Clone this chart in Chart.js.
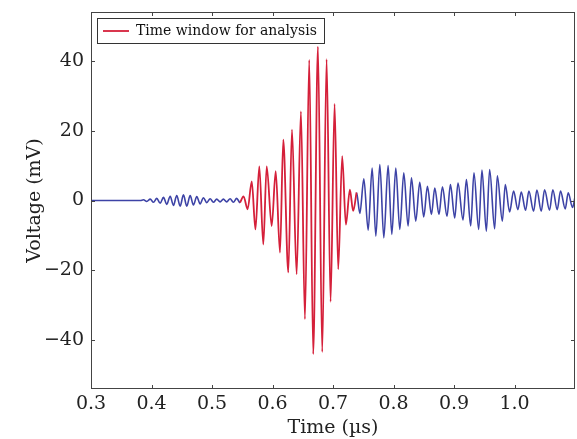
<!DOCTYPE html>
<html>
<head>
<meta charset="utf-8">
<script src="https://cdn.jsdelivr.net/npm/chart.js@4.4.0/dist/chart.umd.min.js"></script>
<style>
  body { margin: 0; background: #fff; }
  #wrap { width: 577px; height: 439px; }
</style>
</head>
<body>
<div id="wrap"><canvas id="waveChart"></canvas></div>
<script>
// peaks and troughs of the trace
const timeUs = [
  0.3000, 0.3500, 0.3814, 0.3868, 0.3922, 0.3979, 0.4033, 0.4087, 0.4144, 0.4198,
  0.4252, 0.4309, 0.4363, 0.4417, 0.4474, 0.4528, 0.4583, 0.4639, 0.4693, 0.4748,
  0.4804, 0.4858, 0.4913, 0.4969, 0.5023, 0.5078, 0.5134, 0.5188, 0.5243, 0.5299,
  0.5353, 0.5408, 0.5464, 0.5521, 0.5589, 0.5657, 0.5718, 0.5782, 0.5848, 0.5904,
  0.5987, 0.6053, 0.6124, 0.6178, 0.6261, 0.6322, 0.6399, 0.6470, 0.6536, 0.6607,
  0.6673, 0.6751, 0.6822, 0.6894, 0.6960, 0.7026, 0.7086, 0.7152, 0.7213, 0.7279,
  0.7333, 0.7389, 0.7444, 0.7510, 0.7581, 0.7647, 0.7708, 0.7774, 0.7840, 0.7911,
  0.7972, 0.8038, 0.8104, 0.8170, 0.8241, 0.8297, 0.8368, 0.8434, 0.8500, 0.8561,
  0.8627, 0.8682, 0.8752, 0.8809, 0.8884, 0.8941, 0.9012, 0.9066, 0.9149, 0.9205,
  0.9276, 0.9330, 0.9408, 0.9462, 0.9535, 0.9589, 0.9672, 0.9716, 0.9799, 0.9848,
  0.9919, 0.9985, 1.0056, 1.0112, 1.0183, 1.0238, 1.0315, 1.0370, 1.0442, 1.0497,
  1.0579, 1.0634, 1.0706, 1.0761, 1.0838, 1.0888, 1.0959, 1.1000
];
const voltageMv = [
  0, 0, 0, 0.2, -0.3, 0.4, -0.5, 0.6, -0.8, 0.9,
  -1.1, 1.2, -1.4, 1.4, -1.6, 1.6, -1.6, 1.4, -1.3, 1.1,
  -1.0, 0.8, -0.6, 0.5, -0.5, 0.4, -0.4, 0.4, -0.4, 0.5,
  -0.5, 0.6, -0.6, 1.2, -2.5, 5.5, -8.3, 9.8, -12.6, 9.8,
  -7.3, 8.4, -14.9, 17.4, -20.6, 20.3, -21.1, 25.5, -34.0, 40.3,
  -44.0, 44.1, -43.4, 40.5, -29.0, 27.7, -19.7, 12.7, -6.9, 3.1,
  -3.0, 2.3, -3.7, 6.2, -8.5, 9.3, -10.2, 10.3, -10.7, 10.0,
  -9.7, 9.3, -8.3, 7.9, -7.3, 6.5, -5.9, 5.2, -4.7, 4.1,
  -4.0, 3.6, -4.0, 3.9, -4.5, 4.6, -5.0, 5.0, -5.6, 6.0,
  -7.3, 7.9, -8.3, 8.7, -8.8, 8.9, -8.1, 7.1, -5.9, 4.6,
  -3.3, 2.7, -2.6, 2.4, -2.8, 2.7, -3.1, 3.0, -3.1, 3.1,
  -2.8, 3.1, -2.6, 2.7, -2.4, 2.2, -2.0, 1.0
];
const windowStart = 0.5464;
const windowEnd = 0.7389;
const xTicks = [0.3, 0.4, 0.5, 0.6, 0.7, 0.8, 0.9, 1.0];
const yTicks = [-40, -20, 0, 20, 40];
const legendLabel = 'Time window for analysis';

const blue = '#3d43a6';
const red = '#d5203a';
const serif = 'DejaVu Serif';

const allPoints = timeUs.map((t, i) => ({ x: t, y: voltageMv[i] }));
const windowPoints = allPoints.filter(p => p.x >= windowStart && p.x <= windowEnd);

// matplotlib style: frame on all four sides, ticks pointing inward, boxed legend
const framePlugin = {
  id: 'frame',
  afterLayout(chart) {
    // a legend placed in the chart area gets top = 0, pin it to the plot instead
    const lg = chart.legend;
    if (lg) {
      lg.top = chart.chartArea.top;
      lg.bottom = chart.chartArea.bottom;
    }
  },
  afterDraw(chart) {
    const ctx = chart.ctx;
    const a = chart.chartArea;
    const xs = chart.scales.x;
    const ys = chart.scales.y;
    ctx.save();
    ctx.strokeStyle = '#444';
    ctx.lineWidth = 1;
    ctx.strokeRect(a.left + 0.5, a.top + 0.5, a.right - a.left - 1, a.bottom - a.top - 1);
    ctx.beginPath();
    xTicks.forEach(v => {
      const px = Math.round(xs.getPixelForValue(v)) + 0.5;
      ctx.moveTo(px, a.bottom); ctx.lineTo(px, a.bottom - 4);
      ctx.moveTo(px, a.top); ctx.lineTo(px, a.top + 4);
    });
    yTicks.forEach(v => {
      const py = Math.round(ys.getPixelForValue(v)) + 0.5;
      ctx.moveTo(a.left, py); ctx.lineTo(a.left + 4, py);
      ctx.moveTo(a.right, py); ctx.lineTo(a.right - 4, py);
    });
    ctx.stroke();

    const hb = chart.legend && chart.legend.legendHitBoxes && chart.legend.legendHitBoxes[0];
    if (hb) {
      ctx.strokeStyle = '#333';
      ctx.strokeRect(Math.round(hb.left - 6) + 0.5, Math.round(hb.top - 6) + 0.5,
        Math.round(hb.width + 13), Math.round(hb.height + 11));
    }
    ctx.restore();
  }
};

new Chart(document.getElementById('waveChart'), {
  type: 'line',
  data: {
    datasets: [{
      label: legendLabel,
      data: windowPoints,
      borderColor: red,
      backgroundColor: red,
      borderWidth: 1.8,
      pointRadius: 0,
      cubicInterpolationMode: 'monotone',
      fill: false
    }, {
      label: 'signal',
      data: allPoints,
      borderColor: blue,
      borderWidth: 1.6,
      pointRadius: 0,
      cubicInterpolationMode: 'monotone',
      fill: false,
      segment: {
        borderColor: c => (c.p0.parsed.x >= windowStart && c.p1.parsed.x <= windowEnd) ? 'rgba(0,0,0,0)' : blue
      }
    }]
  },
  options: {
    responsive: true,
    maintainAspectRatio: false,
    animation: false,
    layout: { autoPadding: false, padding: { top: 12, right: 2, left: 0, bottom: 0 } },
    plugins: {
      tooltip: { enabled: false },
      legend: {
        position: 'chartArea',
        align: 'start',
        labels: {
          filter: item => item.datasetIndex === 0,
          usePointStyle: true,
          pointStyle: 'line',
          pointStyleWidth: 26,
          padding: 12,
          color: '#111',
          font: { family: serif, size: 14 }
        }
      }
    },
    scales: {
      x: {
        type: 'linear',
        min: 0.3,
        max: 1.1,
        grid: { display: false, drawTicks: false },
        border: { display: false },
        afterBuildTicks: s => { s.ticks = xTicks.map(v => ({ value: v })); },
        afterFit: s => { s.height = 50; },
        ticks: {
          padding: 4,
          color: '#222',
          font: { family: serif, size: 19 },
          maxRotation: 0,
          callback: v => Number(v).toFixed(1)
        },
        title: {
          display: true,
          text: 'Time (\u00b5s)',
          color: '#222',
          font: { family: serif, size: 19 },
          padding: { top: 0, bottom: 0 }
        }
      },
      y: {
        min: -54,
        max: 54,
        grid: { display: false, drawTicks: false },
        border: { display: false },
        afterBuildTicks: s => { s.ticks = yTicks.map(v => ({ value: v })); },
        afterFit: s => { s.width = 91; s.paddingTop = 0; s.paddingBottom = 0; },
        ticks: {
          padding: 7,
          color: '#222',
          font: { family: serif, size: 19 },
          callback: v => v < 0 ? '\u2212' + Math.abs(v) : String(v)
        },
        title: {
          display: true,
          text: 'Voltage (mV)',
          color: '#222',
          font: { family: serif, size: 19 },
          padding: { top: 24, bottom: 0 }
        }
      }
    }
  },
  plugins: [framePlugin]
});
</script>
</body>
</html>
